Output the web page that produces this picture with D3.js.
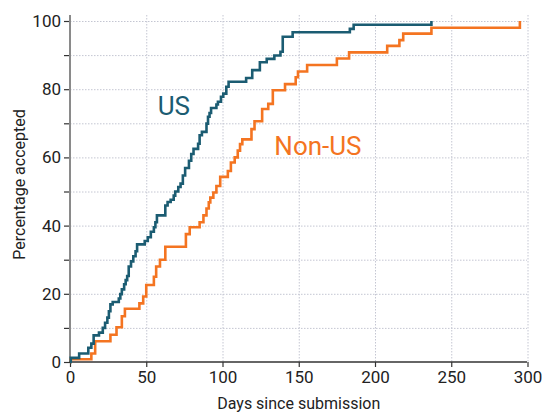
<!DOCTYPE html>
<html>
<head>
<meta charset="utf-8">
<script src="https://cdn.jsdelivr.net/npm/d3@7"></script>
<style>
  body { margin: 0; background: #fff; }
  .chart text { font-family: Roboto, "Noto Sans", sans-serif; fill: #222; }
  .grid line { stroke: #c4c6d2; stroke-width: 1; stroke-dasharray: 1.5,1.5; }
</style>
</head>
<body>
<div class="chart"></div>
<script>
// step points: [day, percentage accepted]
var usData = [
  [0, 0], [0.5, 1.2], [6, 2.5], [12, 4.2], [14, 5.4], [15.5, 7.8], [19, 8.6],
  [21.5, 10], [23, 11.5], [24.5, 13], [25.5, 14.9], [26.5, 16.9], [28, 17.6],
  [32, 18.6], [33, 19.9], [34, 21.3], [35.5, 22.8], [36.5, 24], [37.5, 25.2],
  [38.5, 28], [40, 29.5], [41.5, 31], [43, 32.5], [44, 34.5], [49, 35.5],
  [51, 36.6], [53, 38.2], [55, 39.5], [56, 41], [57, 43], [62.5, 45.9],
  [64, 46.9], [66, 47.6], [68, 48.8], [69, 50], [71, 51.3], [72.5, 52.3],
  [74, 54.7], [75.5, 56.9], [78, 59], [79.5, 61], [81, 62.5], [84, 64],
  [85, 66.5], [86.5, 67.5], [89.5, 69.9], [90.5, 71.9], [91.5, 73], [92.5, 74.5],
  [96, 75.5], [97, 76.3], [99, 77.8], [100.5, 78.7], [102.5, 80.7], [104, 82.2],
  [115.5, 83.3], [119.5, 85.6], [124.5, 87.9], [129, 88.9], [134, 89.9],
  [138, 91], [139.5, 95.4], [146, 96.7], [183.5, 97.7], [186, 98.9], [237, 100]
];

var nonUsData = [
  [0, 0], [0.5, 0.8], [14, 2.5], [16.5, 6.1], [26.5, 8], [30.5, 10.2], [34, 13.4],
  [36, 15.6], [45.5, 17.2], [48, 19.2], [50, 22.6], [55, 25], [56.5, 28],
  [59, 30], [62.5, 33.8], [76, 37.5], [78.5, 39.5], [85, 41], [87.5, 43],
  [89.5, 45], [91, 46.8], [92, 48.2], [94, 49.7], [96, 51.6], [98.5, 54.3],
  [103.5, 56], [105.5, 58.5], [108, 60], [110, 62], [111.5, 63.9], [113, 65.3],
  [119, 68.3], [121, 70.6], [126, 74.2], [130, 75.7], [133, 79.7], [141, 81.5],
  [148, 83.5], [149.5, 85.2], [155.5, 87.1], [175, 89], [183, 90.8], [208, 92.7],
  [216, 94.4], [218.5, 96.3], [237, 98], [295, 100]
];

var xTicks = [0, 50, 100, 150, 200, 250, 300];
var yTicks = [0, 10, 20, 30, 40, 50, 60, 70, 80, 90, 100];
var yLabels = [0, 20, 40, 60, 80, 100];

var svgWidth = 544;
var svgHeight = 412;
var margin = { top: 21, right: 17, bottom: 50, left: 70 };
var width = svgWidth - margin.left - margin.right;
var height = svgHeight - margin.top - margin.bottom;

var svg = d3.select('.chart')
  .append('svg')
  .attr('width', svgWidth)
  .attr('height', svgHeight)
  .append('g')
  .attr('transform', 'translate(' + margin.left + ',' + margin.top + ')');

var x = d3.scaleLinear().domain([0, 300]).range([0, 457.5]);
var y = d3.scaleLinear().domain([0, 100]).range([height, 0]);

// grid
var grid = svg.append('g').attr('class', 'grid');
grid.selectAll('.h')
  .data(yTicks.slice(1))
  .enter()
  .append('line')
  .attr('x1', 0)
  .attr('x2', width)
  .attr('y1', function(d) { return y(d) + 0.5; })
  .attr('y2', function(d) { return y(d) + 0.5; });
grid.selectAll('.v')
  .data(xTicks.slice(1))
  .enter()
  .append('line')
  .attr('y1', -6)
  .attr('y2', height)
  .attr('x1', function(d) { return x(d) + 0.5; })
  .attr('x2', function(d) { return x(d) + 0.5; });

// axes
var yAxis = d3.axisLeft(y)
  .tickValues(yTicks)
  .tickSize(6)
  .tickPadding(3)
  .tickFormat(function(d) { return yLabels.indexOf(d) >= 0 ? d : ''; });

var gy = svg.append('g').call(yAxis);
gy.select('.domain').remove();
gy.selectAll('.tick line').attr('stroke', '#333').attr('stroke-width', 1.2);
gy.selectAll('.tick text').style('font-size', '17px').attr('fill', '#222');
gy.append('line')
  .attr('x1', 0).attr('x2', 0)
  .attr('y1', -6).attr('y2', height)
  .attr('stroke', '#8a8a8a')
  .attr('stroke-width', 2);

var xAxis = d3.axisBottom(x)
  .tickValues(xTicks)
  .tickSize(5)
  .tickPadding(4);

var gx = svg.append('g')
  .attr('transform', 'translate(0,' + height + ')')
  .call(xAxis);
gx.select('.domain').remove();
gx.selectAll('.tick line').attr('stroke', '#333').attr('stroke-width', 1.2);
gx.selectAll('.tick text').style('font-size', '17px').attr('fill', '#222');
gx.append('line')
  .attr('x1', -1).attr('x2', width)
  .attr('y1', 0).attr('y2', 0)
  .attr('stroke', '#333')
  .attr('stroke-width', 1.5);

// lines
var line = d3.line()
  .x(function(d) { return x(d[0]); })
  .y(function(d) { return y(d[1]); })
  .curve(d3.curveStepAfter);

svg.append('path')
  .datum(nonUsData)
  .attr('fill', 'none')
  .attr('stroke', '#f47421')
  .attr('stroke-width', 2.6)
  .attr('d', line);

svg.append('path')
  .datum(usData)
  .attr('fill', 'none')
  .attr('stroke', '#1b5c72')
  .attr('stroke-width', 2.6)
  .attr('d', line);

// labels
svg.append('text')
  .attr('x', x(57.5))
  .attr('y', y(72.5))
  .style('font-size', '26px')
  .style('fill', '#1b5c72')
  .text('US');

svg.append('text')
  .attr('x', x(134))
  .attr('y', y(60.8))
  .style('font-size', '26px')
  .style('fill', '#f47421')
  .text('Non-US');

svg.append('text')
  .attr('transform', 'translate(' + (-45) + ',' + (height / 2 - 7) + ') rotate(-90)')
  .attr('text-anchor', 'middle')
  .style('font-size', '16px')
  .text('Percentage accepted');

svg.append('text')
  .attr('x', x(150))
  .attr('y', height + 47)
  .attr('text-anchor', 'middle')
  .style('font-size', '16px')
  .text('Days since submission');
</script>
</body>
</html>
